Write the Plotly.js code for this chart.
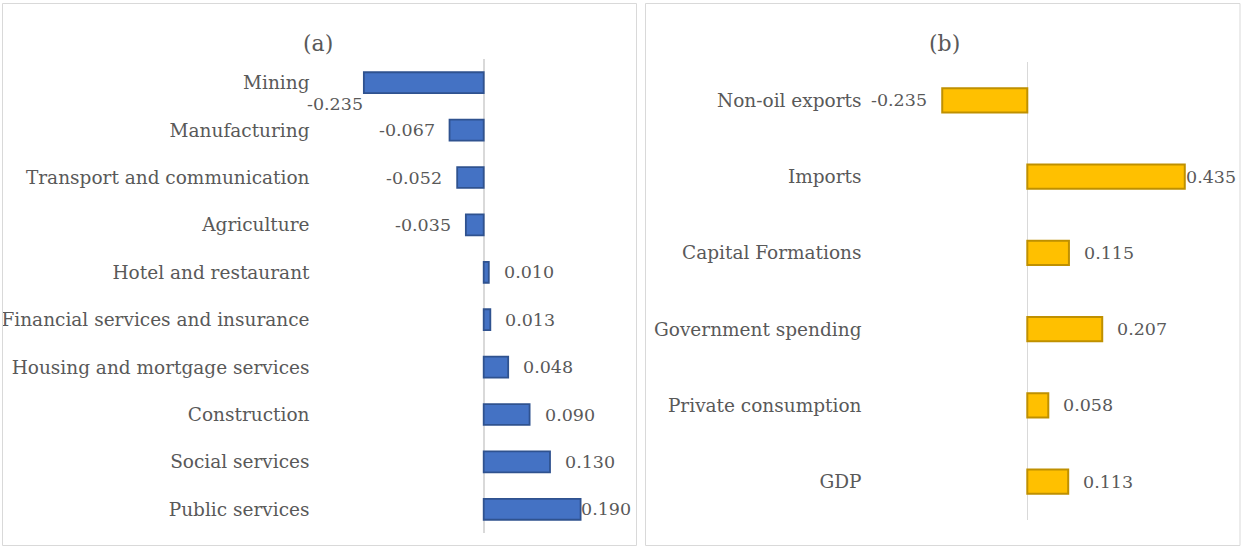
<!DOCTYPE html>
<html>
<head>
<meta charset="utf-8">
<script src="https://cdn.plot.ly/plotly-3.0.1.min.js"></script>
<style>html,body{margin:0;padding:0;background:#fff;}#chart{width:1242px;height:548px;}</style>
</head>
<body>
<div id="chart"></div>
<script>
const sectors = ['Mining','Manufacturing','Transport and communication','Agriculture','Hotel and restaurant','Financial services and insurance','Housing and mortgage services','Construction','Social services','Public services'];
const sectorValues = [-0.235,-0.067,-0.052,-0.035,0.010,0.013,0.048,0.090,0.130,0.190];
const components = ['Non-oil exports','Imports','Capital Formations','Government spending','Private consumption','GDP'];
const componentValues = [-0.235,0.435,0.115,0.207,0.058,0.113];
const panelTitles = ['(a)','(b)'];

const W = 1242, H = 548;
const px = x => x / W;
const py = y => 1 - y / H;
const FONT = 'DejaVu Serif';
const FS = 18.5;
const LFS = 17.5;
const TXT = '#595959';

// panel geometry (pixels)
const A = {left: 310.5, right: 630, top: 59, bottom: 533, zero: 483.7, scale: 510};
const B = {left: 862.5, right: 1234, top: 62.3, bottom: 519.7, zero: 1027.3, scale: 362};
const rangeOf = P => [(P.left - P.zero) / P.scale, (P.right - P.zero) / P.scale];

const traces = [
  {type:'bar', orientation:'h', x: sectorValues, y: sectors, xaxis:'x', yaxis:'y', width:0.44,
   marker:{color:'#4472C4', line:{color:'#2F528F', width:1.8}}, hoverinfo:'none', cliponaxis:false},
  {type:'bar', orientation:'h', x: componentValues, y: components, xaxis:'x2', yaxis:'y2', width:0.32,
   marker:{color:'#FFC000', line:{color:'#BF9000', width:2}}, hoverinfo:'none', cliponaxis:false}
];

function labelAnns(vals, cats, xref, yref, specials) {
  return vals.map((v, i) => {
    const s = specials[i] || {};
    const neg = v < 0;
    return {
      x: v, y: cats[i], xref: xref, yref: yref, text: v.toFixed(3), showarrow: false,
      xanchor: neg ? 'right' : 'left', yanchor: 'middle',
      xshift: s.xshift !== undefined ? s.xshift : (neg ? -13 : 13),
      yshift: s.yshift || 0,
      font: {family: FONT, size: LFS, color: TXT}
    };
  });
}

const annotations = []
  .concat(labelAnns(sectorValues, sectors, 'x', 'y', {0: {xshift: 1, yshift: -21}, 9: {xshift: -2}}))
  .concat(labelAnns(componentValues, components, 'x2', 'y2', {1: {xshift: -1}}))
  .concat([
    {x: px(318), y: py(43), xref:'paper', yref:'paper', xanchor:'center', yanchor:'middle', text: panelTitles[0], showarrow:false, font:{family:FONT, size:22, color:TXT}},
    {x: px(944), y: py(43), xref:'paper', yref:'paper', xanchor:'center', yanchor:'middle', text: panelTitles[1], showarrow:false, font:{family:FONT, size:22, color:TXT}}
  ]);

const shapes = [
  {type:'rect', xref:'paper', yref:'paper', x0: px(2.5), x1: px(636.5), y0: py(3.5), y1: py(545.5), line:{color:'#d9d9d9', width:1}},
  {type:'rect', xref:'paper', yref:'paper', x0: px(645.5), x1: px(1240), y0: py(3.5), y1: py(545.5), line:{color:'#d9d9d9', width:1}}
];

const xax = P => ({domain:[px(P.left), px(P.right)], range: rangeOf(P), showgrid:false, showticklabels:false, ticks:'',
  zeroline:true, zerolinecolor:'#d9d9d9', zerolinewidth:1.6, showline:false, fixedrange:true});
const yax = (P, cats) => ({domain:[py(P.bottom), py(P.top)], type:'category', categoryorder:'array', categoryarray: cats,
  range:[cats.length - 0.5, -0.5], showgrid:false, ticks:'', showline:false, zeroline:false,
  tickfont:{family:FONT, size:FS, color:TXT}, automargin:false, fixedrange:true});

const layout = {
  width: W, height: H, margin:{l:0, r:0, t:0, b:0},
  paper_bgcolor:'#fff', plot_bgcolor:'rgba(0,0,0,0)', showlegend:false,
  xaxis: xax(A), yaxis: yax(A, sectors),
  xaxis2: Object.assign(xax(B), {anchor:'y2'}), yaxis2: Object.assign(yax(B, components), {anchor:'x2'}),
  annotations: annotations, shapes: shapes, barmode:'group'
};
layout.xaxis.anchor = 'y';
layout.yaxis.anchor = 'x';

Plotly.newPlot('chart', traces, layout, {displayModeBar:false, staticPlot:true});
</script>
</body>
</html>
